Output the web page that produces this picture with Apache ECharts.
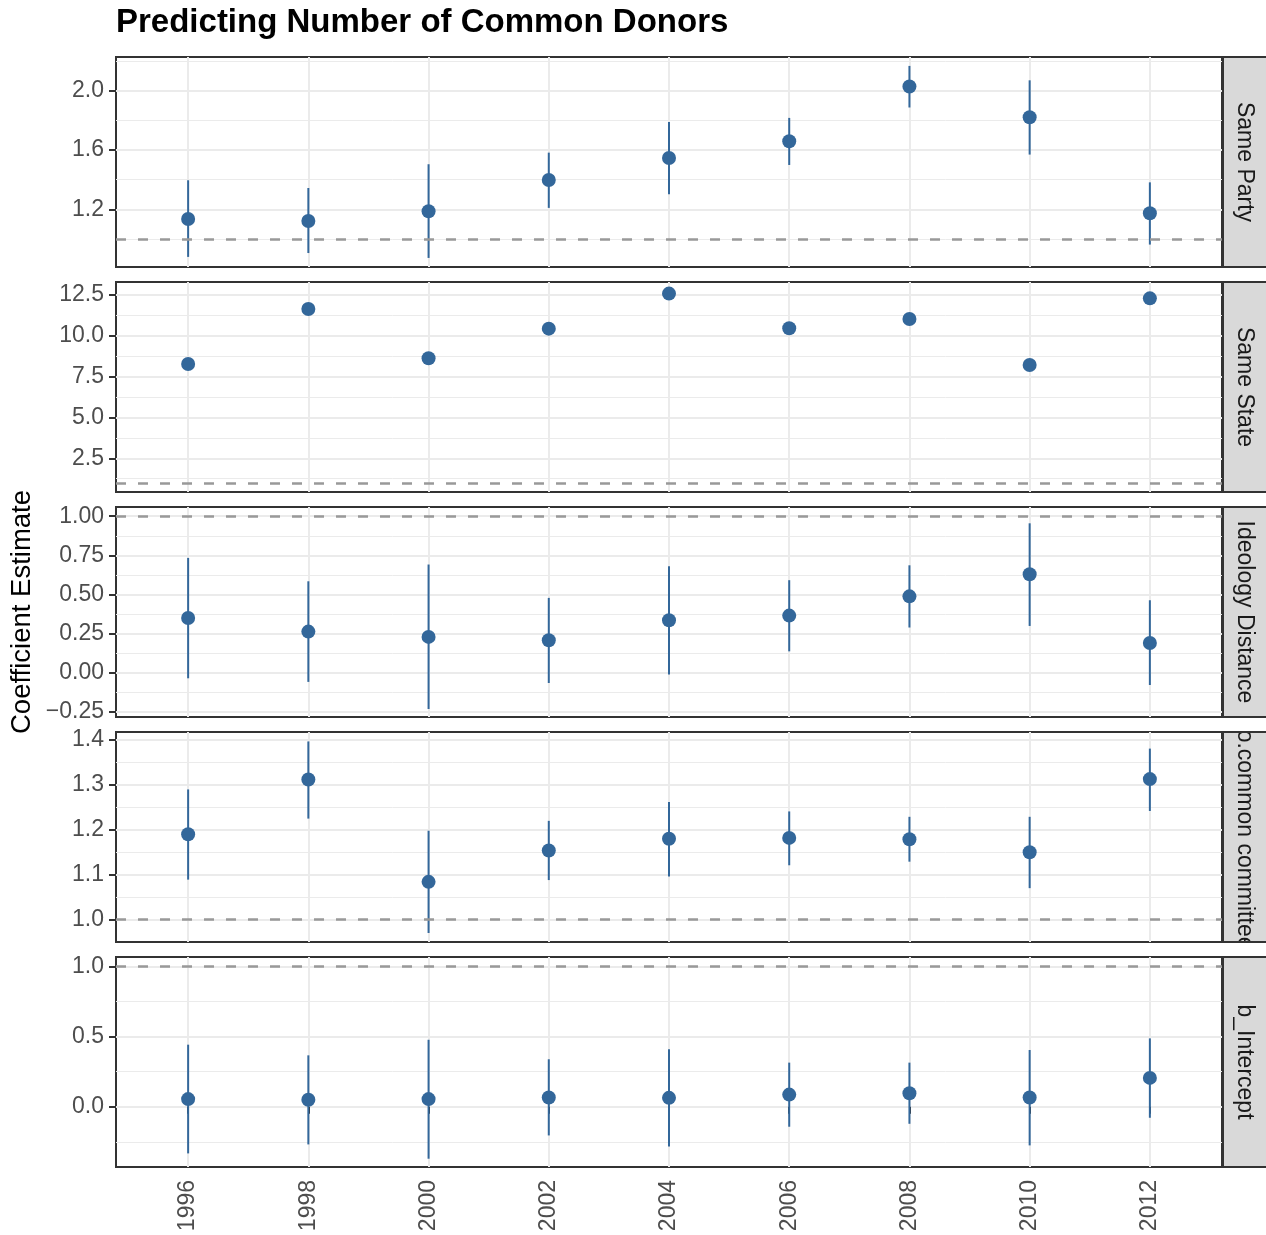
<!DOCTYPE html>
<html>
<head>
<meta charset="utf-8">
<script src="https://cdn.jsdelivr.net/npm/echarts@6/dist/echarts.min.js"></script>
<style>
  html, body { margin: 0; padding: 0; background: #ffffff; }
  #chart { width: 1266px; height: 1235px; }
</style>
</head>
<body>
<div id="chart"></div>
<script>
// Election years on the shared horizontal axis
const years = [1996, 1998, 2000, 2002, 2004, 2006, 2008, 2010, 2012];

// Facet titles, top to bottom
const panelNames = ['Same Party', 'Same State', 'Ideology Distance', 'No.common committees', 'b_Intercept'];

// Same Party: estimate with lower / upper interval bounds
const partyEst  = [1.135, 1.122, 1.187, 1.398, 1.546, 1.659, 2.027, 1.820, 1.174];
const partyLow  = [0.880, 0.906, 0.873, 1.210, 1.302, 1.499, 1.886, 1.569, 0.963];
const partyHigh = [1.396, 1.344, 1.504, 1.582, 1.789, 1.816, 2.166, 2.069, 1.382];

// Same State
const stateEst  = [8.26, 11.62, 8.61, 10.42, 12.56, 10.44, 11.01, 8.20, 12.27];
const stateLow  = [8.12, 11.47, 8.45, 10.29, 12.41, 10.31, 10.87, 8.05, 12.12];
const stateHigh = [8.40, 11.77, 8.77, 10.55, 12.71, 10.57, 11.15, 8.35, 12.42];

// Ideology Distance
const ideoEst  = [0.351, 0.264, 0.230, 0.209, 0.336, 0.366, 0.489, 0.630, 0.191];
const ideoLow  = [-0.034, -0.057, -0.230, -0.064, -0.010, 0.138, 0.290, 0.300, -0.077];
const ideoHigh = [0.734, 0.585, 0.692, 0.479, 0.681, 0.592, 0.687, 0.955, 0.464];

// Number of common committees
const commEst  = [1.190, 1.312, 1.084, 1.154, 1.180, 1.182, 1.179, 1.150, 1.313];
const commLow  = [1.089, 1.225, 0.970, 1.088, 1.096, 1.121, 1.129, 1.070, 1.242];
const commHigh = [1.290, 1.397, 1.198, 1.220, 1.262, 1.241, 1.229, 1.229, 1.381];

// Intercept
const icptEst  = [0.055, 0.050, 0.055, 0.066, 0.064, 0.087, 0.097, 0.066, 0.206];
const icptLow  = [-0.332, -0.268, -0.370, -0.204, -0.282, -0.142, -0.121, -0.275, -0.078];
const icptHigh = [0.443, 0.367, 0.478, 0.339, 0.410, 0.315, 0.315, 0.405, 0.488];

// Reference value drawn as a dashed line in every facet
const referenceValue = 1;

// Tick values and their labels for each facet
const partyTicks = [1.2, 1.6, 2.0];
const partyTickLabels = ['1.2', '1.6', '2.0'];
const stateTicks = [2.5, 5.0, 7.5, 10.0, 12.5];
const stateTickLabels = ['2.5', '5.0', '7.5', '10.0', '12.5'];
const ideoTicks = [-0.25, 0, 0.25, 0.5, 0.75, 1.0];
const ideoTickLabels = ['\u22120.25', '0.00', '0.25', '0.50', '0.75', '1.00'];
const commTicks = [1.0, 1.1, 1.2, 1.3, 1.4];
const commTickLabels = ['1.0', '1.1', '1.2', '1.3', '1.4'];
const icptTicks = [0, 0.5, 1.0];
const icptTickLabels = ['0.0', '0.5', '1.0'];

// Minor grid positions (midpoints between labelled ticks)
const partyMinor = [1.0, 1.4, 1.8, 2.2];
const stateMinor = [1.25, 3.75, 6.25, 8.75, 11.25];
const ideoMinor = [-0.125, 0.125, 0.375, 0.625, 0.875];
const commMinor = [1.05, 1.15, 1.25, 1.35];
const icptMinor = [-0.25, 0.25, 0.75];

const panels = [
  { est: partyEst, low: partyLow, high: partyHigh, ticks: partyTicks, labels: partyTickLabels, minor: partyMinor, range: [0.812, 2.226] },
  { est: stateEst, low: stateLow, high: stateHigh, ticks: stateTicks, labels: stateTickLabels, minor: stateMinor, range: [0.44, 13.27] },
  { est: ideoEst,  low: ideoLow,  high: ideoHigh,  ticks: ideoTicks,  labels: ideoTickLabels,  minor: ideoMinor,  range: [-0.281, 1.059] },
  { est: commEst,  low: commLow,  high: commHigh,  ticks: commTicks,  labels: commTickLabels,  minor: commMinor,  range: [0.950, 1.418] },
  { est: icptEst,  low: icptLow,  high: icptHigh,  ticks: icptTicks,  labels: icptTickLabels,  minor: icptMinor,  range: [-0.429, 1.068] }
];

// Layout
const FONT = '"Liberation Sans", Arial, Helvetica, sans-serif';
const LEFT = 116, WIDTH = 1106, TOP0 = 57, PANEL_H = 210, STEP = 225;
const GAP = STEP - PANEL_H;
const STRIP_X = 1223, STRIP_W = 60;
const X_MIN = 1994.8, X_MAX = 2013.2;
const POINT_COLOR = '#33679a';
const GRID_COLOR = '#ebebeb';
const BORDER_COLOR = '#333333';
const STRIP_FILL = '#d9d9d9';
const TICK_TEXT = '#4d4d4d';
const TICK_FONT = 23;

// text width, used to keep long strip labels inside their own strip
const measureCtx = document.createElement('canvas').getContext('2d');
function textWidth(str, font) {
  measureCtx.font = font;
  return measureCtx.measureText(str).width;
}

const grids = [], xAxes = [], yAxes = [], series = [], graphics = [];

panels.forEach((p, i) => {
  const top = TOP0 + i * STEP;
  const isLast = i === panels.length - 1;

  grids.push({
    left: LEFT, top: top, width: WIDTH, height: PANEL_H,
    containLabel: false, outerBoundsMode: 'none',
    show: true, backgroundColor: '#ffffff',
    borderColor: BORDER_COLOR, borderWidth: 2
  });

  xAxes.push({
    type: 'value', gridIndex: i, min: X_MIN, max: X_MAX, position: 'bottom',
    axisLine: { show: false },
    axisTick: { show: isLast, length: 7, lineStyle: { color: BORDER_COLOR, width: 2 }, customValues: years },
    axisLabel: {
      show: isLast, customValues: years, rotate: 90, margin: 13,
      color: TICK_TEXT, fontFamily: FONT, fontSize: TICK_FONT,
      formatter: v => String(Math.round(v))
    },
    splitLine: { show: true, lineStyle: { color: GRID_COLOR, width: 2 } }
  });

  // minor horizontal grid (thin)
  yAxes.push({
    type: 'value', gridIndex: i, min: p.range[0], max: p.range[1],
    position: 'left', offset: 0,
    axisLine: { show: false },
    axisTick: { show: false, customValues: p.minor },
    axisLabel: { show: false, customValues: p.minor },
    splitLine: { show: true, lineStyle: { color: GRID_COLOR, width: 1 } }
  });
  // major horizontal grid with labels
  yAxes.push({
    type: 'value', gridIndex: i, min: p.range[0], max: p.range[1],
    position: 'left', offset: 0,
    axisLine: { show: false },
    axisTick: { show: true, length: 7, lineStyle: { color: BORDER_COLOR, width: 2 }, customValues: p.ticks },
    axisLabel: {
      show: true, customValues: p.ticks, margin: 12,
      color: TICK_TEXT, fontFamily: FONT, fontSize: TICK_FONT,
      formatter: v => {
        const k = p.ticks.findIndex(t => Math.abs(t - v) < 1e-9);
        return k >= 0 ? p.labels[k] : '';
      }
    },
    splitLine: { show: true, lineStyle: { color: GRID_COLOR, width: 2 } }
  });

  const yMajor = 2 * i + 1;

  // interval lines, with the dashed reference line underneath
  series.push({
    type: 'custom', xAxisIndex: i, yAxisIndex: yMajor, z: 3,
    data: years.map((yr, j) => [yr, p.low[j], p.high[j]]),
    encode: { x: 0, y: [1, 2] },
    renderItem: (params, api) => {
      const x = api.value(0);
      const a = api.coord([x, api.value(1)]);
      const b = api.coord([x, api.value(2)]);
      return {
        type: 'line',
        shape: { x1: a[0], y1: a[1], x2: b[0], y2: b[1] },
        style: { stroke: POINT_COLOR, lineWidth: 2 }
      };
    },
    markLine: {
      silent: true, symbol: 'none', animation: false,
      label: { show: false },
      lineStyle: { color: '#999999', width: 2.5, type: [10, 12] },
      data: [{ yAxis: referenceValue }]
    }
  });

  series.push({
    type: 'scatter', xAxisIndex: i, yAxisIndex: yMajor, z: 4,
    symbol: 'circle', symbolSize: 14,
    itemStyle: { color: POINT_COLOR, opacity: 1 },
    data: years.map((yr, j) => [yr, p.est[j]])
  });

  // facet strip
  graphics.push({
    type: 'rect', z: 100,
    shape: { x: STRIP_X, y: top, width: STRIP_W, height: PANEL_H },
    style: { fill: STRIP_FILL }
  });
  graphics.push({
    type: 'text', z: 101,
    x: 1244, y: top + PANEL_H / 2, rotation: -Math.PI / 2,
    style: {
      text: panelNames[i], fill: '#1a1a1a', font: TICK_FONT + 'px ' + FONT,
      align: 'center', verticalAlign: 'middle'
    }
  });
});

// strip labels longer than the strip are cut at its edges
panels.forEach((p, i) => {
  const top = TOP0 + i * STEP;
  const over = (textWidth(panelNames[i], TICK_FONT + 'px ' + FONT) - PANEL_H) / 2;
  if (over <= 0) return;
  const spill = Math.ceil(over + 2);
  // white gaps above and below
  graphics.push({
    type: 'rect', z: 102,
    shape: { x: STRIP_X - 1, y: top - GAP, width: STRIP_W + 2, height: GAP },
    style: { fill: '#ffffff' }
  });
  graphics.push({
    type: 'rect', z: 102,
    shape: { x: STRIP_X - 1, y: top + PANEL_H, width: STRIP_W + 2, height: GAP },
    style: { fill: '#ffffff' }
  });
  // edges of the neighbouring strips
  if (spill > GAP) {
    if (i > 0) {
      graphics.push({
        type: 'rect', z: 102,
        shape: { x: STRIP_X, y: top - GAP - (spill - GAP), width: STRIP_W, height: spill - GAP },
        style: { fill: STRIP_FILL }
      });
    }
    if (i < panels.length - 1) {
      graphics.push({
        type: 'rect', z: 102,
        shape: { x: STRIP_X, y: top + PANEL_H + GAP, width: STRIP_W, height: spill - GAP },
        style: { fill: STRIP_FILL }
      });
    }
  }
});
panels.forEach((p, i) => {
  const top = TOP0 + i * STEP;
  graphics.push({
    type: 'rect', z: 103,
    shape: { x: STRIP_X, y: top, width: STRIP_W, height: PANEL_H },
    style: { fill: 'none', stroke: BORDER_COLOR, lineWidth: 2 }
  });
});

// y-axis title
graphics.push({
  type: 'text', z: 50,
  x: 22, y: TOP0 + (4 * STEP + PANEL_H) / 2, rotation: Math.PI / 2,
  style: {
    text: 'Coefficient Estimate', fill: '#000000', font: '27.5px ' + FONT,
    align: 'center', verticalAlign: 'middle'
  }
});

const chart = echarts.init(document.getElementById('chart'), null, { renderer: 'canvas' });
chart.setOption({
  animation: false,
  backgroundColor: '#ffffff',
  title: {
    text: 'Predicting Number of Common Donors',
    left: LEFT, top: 6, padding: 0,
    textStyle: { fontFamily: FONT, fontSize: 33, fontWeight: 'bold', color: '#000000' }
  },
  grid: grids,
  xAxis: xAxes,
  yAxis: yAxes,
  series: series,
  graphic: graphics
});
</script>
</body>
</html>
